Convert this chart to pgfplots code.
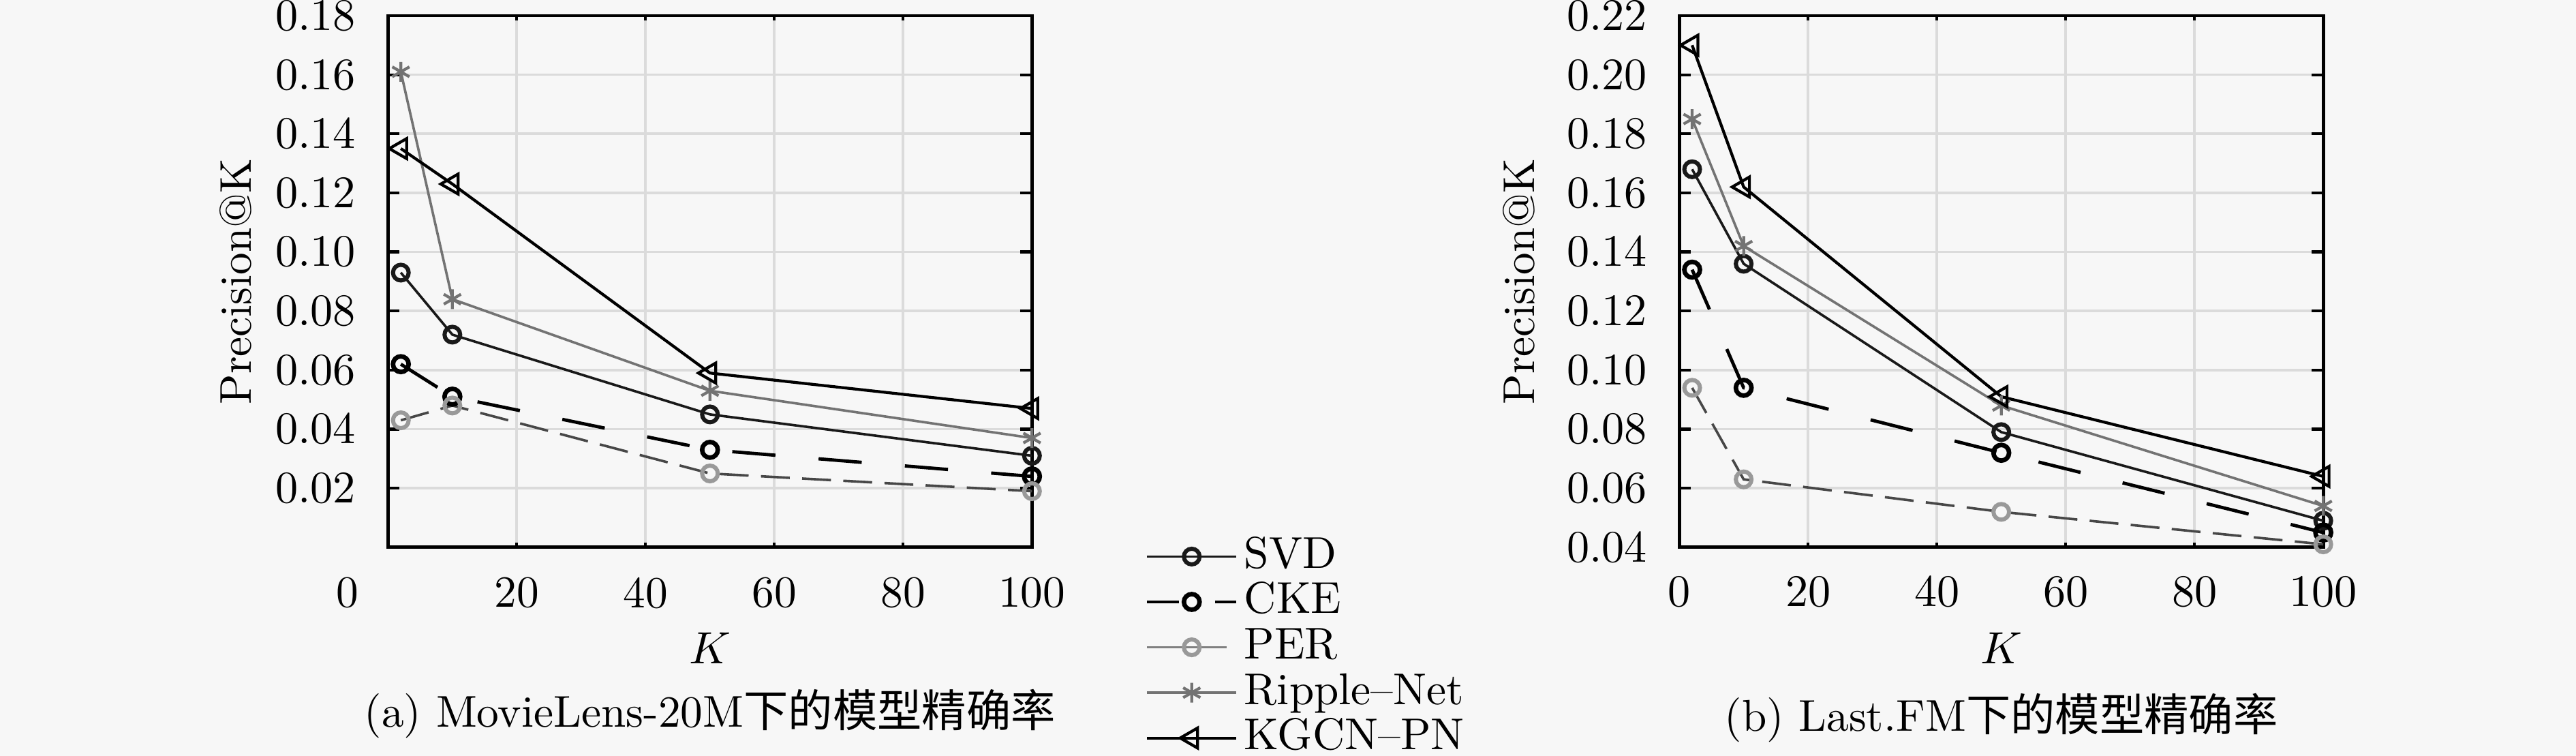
\documentclass[border=0pt]{standalone}
\usepackage{fontspec}
\usepackage{pgfplots}
\pgfplotsset{compat=1.18}
\newfontfamily\cjk{Noto Sans CJK SC}
\definecolor{bgc}{gray}{0.969}
\definecolor{gridc}{gray}{0.86}
\pgfplotsset{
  myax/.style={
    scale only axis, width=156.2pt, height=128.9pt,
    anchor=south west, clip=false,
    xmin=0, xmax=100, xtick={0,20,40,60,80,100},
    grid=major, major grid style={gridc, line width=0.6pt},
    axis line style={line width=0.8pt},
    tick align=inside, tick pos=both,
    xtick style={/pgfplots/major tick length=1.2pt, line width=0.7pt, black},
    ytick style={/pgfplots/major tick length=2.8pt, line width=0.7pt, black},
    xticklabel style={yshift=-3.5pt},
    yticklabel style={xshift=-4pt, /pgf/number format/.cd, fixed, fixed zerofill, precision=2},
    xlabel={$K$},
    xlabel style={at={(axis description cs:0.5,-0.19)}, anchor=center},
    ylabel={Precision@K},
    legend image code/.code={\draw[mark repeat=2,mark phase=2,#1] plot coordinates {(0pt,0pt) (10.85pt,0pt) (21.7pt,0pt)};},
  },
  svd/.style={black!90, line width=0.6pt, mark=o, mark size=1.9pt, mark options={solid, line width=1pt}},
  cke/.style={black, line width=0.8pt, dash pattern=on 10.5pt off 10.5pt, mark=o, mark size=1.9pt, mark options={solid, line width=1.1pt}},
  per/.style={black!72, line width=0.6pt, dash pattern=on 7pt off 3pt, mark=o, mark size=1.9pt, mark options={solid, draw=black!40, line width=1pt}},
  rip/.style={black!55, line width=0.6pt, mark=asterisk, mark size=2.4pt, mark options={solid, line width=0.7pt}},
  kgcn/.style={black, line width=0.7pt, mark=triangle, mark size=2.8pt, mark options={solid, rotate=90, line width=0.7pt}},
}
\begin{document}
\fontsize{10.8}{13}\selectfont
\begin{tikzpicture}
\fill[bgc] (0,0) rectangle (624.8pt,183.3pt);
\useasboundingbox (0,0) rectangle (624.8pt,183.3pt);
\begin{axis}[myax, at={(94.1pt,50.6pt)},
  ymin=0, ymax=0.18,
  ytick={0.02,0.04,0.06,0.08,0.10,0.12,0.14,0.16,0.18},
  xticklabels={\llap{0\hspace{7.2pt}},20,40,60,80,100},
  ylabel style={at={(axis description cs:-0.237,0.5)}, anchor=center},
  legend style={at={(axis description cs:1.1748,0.0268)}, anchor=north west, draw=none, fill=none,
    inner sep=0pt, row sep=0pt, column sep=1pt, legend cell align=left,
    nodes={inner sep=0.5pt, text height=7.8pt, text depth=2.2pt}},
]
\addplot[svd] coordinates {(2,0.093) (10,0.072) (50,0.045) (100,0.031)};
\addlegendentry{SVD}
\addplot[cke, legend image post style={dash pattern=on 7.7pt off 8.8pt on 5.2pt off 10pt}] coordinates {(2,0.062) (10,0.051) (50,0.033) (100,0.024)};
\addlegendentry{CKE}
\addplot[per, legend image post style={black!50, dash pattern=on 19.3pt off 10pt}] coordinates {(2,0.043) (10,0.048) (50,0.025) (100,0.019)};
\addlegendentry{PER}
\addplot[rip] coordinates {(2,0.161) (10,0.084) (50,0.053) (100,0.037)};
\addlegendentry{Ripple--Net}
\addplot[kgcn] coordinates {(2,0.135) (10,0.123) (50,0.059) (100,0.047)};
\addlegendentry{KGCN--PN}
\node at (axis description cs:0.5,-0.3127) {(a) MovieLens-20M{\cjk 下的模型精确率}};
\end{axis}
\begin{axis}[myax, at={(407.3pt,50.6pt)},
  ymin=0.04, ymax=0.22,
  ytick={0.04,0.06,0.08,0.10,0.12,0.14,0.16,0.18,0.20,0.22},
  ylabel style={at={(axis description cs:-0.2495,0.5)}, anchor=center},
]
\addplot[svd] coordinates {(2,0.168) (10,0.136) (50,0.079) (100,0.049)};
\addplot[cke] coordinates {(2,0.134) (10,0.094) (50,0.072) (100,0.045)};
\addplot[per] coordinates {(2,0.094) (10,0.063) (50,0.052) (100,0.041)};
\addplot[rip] coordinates {(2,0.185) (10,0.142) (50,0.088) (100,0.054)};
\addplot[kgcn] coordinates {(2,0.210) (10,0.162) (50,0.091) (100,0.064)};
\node at (axis description cs:0.5,-0.3205) {(b) Last.FM{\cjk 下的模型精确率}};
\end{axis}
\end{tikzpicture}
\end{document}
